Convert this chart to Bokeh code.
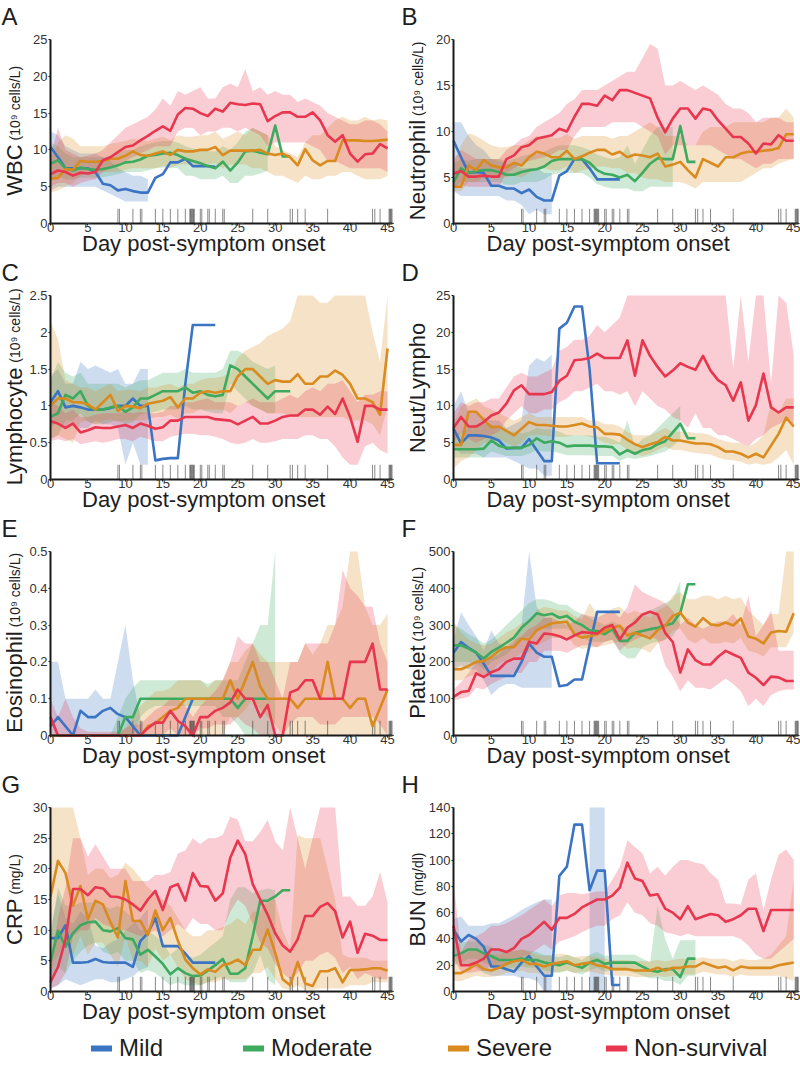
import numpy as np
from math import pi
from bokeh.plotting import figure
from bokeh.models import Label, Legend, LegendItem, Range1d, FixedTicker, NumeralTickFormatter
from bokeh.layouts import column, row
from bokeh.embed import file_html
from bokeh.resources import INLINE

N = None

GROUPS = ["Mild", "Moderate", "Severe", "Non-survival"]
COLORS = ["#3B74C3", "#3DAA5F", "#D98B1F", "#E8364F"]

DAYS = [0, 1, 2, 3, 4, 5, 6, 7, 8, 9, 10, 11, 12, 13, 14, 15, 16, 17, 18, 19, 20, 21, 22,
        23, 24, 25, 26, 27, 28, 29, 30, 31, 32, 33, 34, 35, 36, 37, 38, 39, 40, 41, 42, 43, 44, 45]
X_TICKS = [0, 5, 10, 15, 20, 25, 30, 35, 40, 45]
X_LABEL = "Day post-symptom onset"

RUG_DAYS = [9, 9.2, 11, 12, 12.2, 14, 15, 16, 17, 18, 18.6, 18.7, 18.8, 18.9, 19, 19.1, 19.2,
            20, 20.2, 21, 21.2, 22, 23, 23.2, 27, 29, 32, 32.3, 33, 34, 37, 43, 43.3, 44,
            45.2, 45.3, 45.4, 45.5, 45.6]

# ---------------- A: WBC ----------------
WBC_TICKS = [0, 5, 10, 15, 20, 25]
WBC_MILD = [10.4, 9.0, 7.5, 7.5, 7.5, 7.5, 7.0, 5.4, 5.2, 4.5, 4.7, 4.4, 4.2, 4.2, 6.2, 6.7, 8.3, 8.3, 8.8, 7.8, 7.8, 7.8, 7.7]
WBC_MILD_LO = [4.5, 5, 5, 5, 5, 5, 5, 4.5, 4, 3.5, 3, 3, 3, 3, N, N, N, N, N, N, N, N, N]
WBC_MILD_HI = [12.5, 12, 10.5, 10, 9.5, 9.5, 9.5, 9, 8.5, 7.5, 7, 6.5, 6.5, 6, N, N, N, N, N, N, N, N, N]
WBC_MOD = [8.1, 8.6, 7.5, 7.2, 7.6, 7.4, 7.3, 7.4, 7.6, 7.9, 8.3, 8.4, 8.7, 9.2, 9.3, 9.5, 9.6, 9.3, 8.8, 8.5, 8.2, 7.8, 7.5, 8.4, 7.2, 8.3, 9.8, 9.9, 9.6, 9.4, 13.3, 9.1, 9.1]
WBC_MOD_LO = [6, 6.5, 6, 6, 6.2, 6.2, 6.2, 6.3, 6.5, 6.7, 7, 7, 7, 7.2, 7.5, 7.6, 7.6, 7.5, 6.5, 6.5, 6, 6, 6, 6.5, 5.5, 5.5, 6.5, 6.5, 6.8, 7.2, N, N, N]
WBC_MOD_HI = [11, 10.5, 9.5, 9, 9, 9, 9, 9, 9.2, 9.5, 10, 10, 10.5, 10.8, 11, 11.2, 11.2, 11, 10.5, 10.2, 10, 9.8, 9.8, 10.5, 10, 11, 12.5, 13, 12.5, 12, N, N, N]
WBC_SEV = [6.1, 6.2, 7.4, 7.3, 8.5, 8.4, 8.4, 8.5, 8.8, 8.8, 9.2, 9.8, 9.3, 9.2, 9.5, 9.8, 9.3, 10.0, 9.8, 9.8, 10.0, 10.0, 10.4, 9.3, 9.9, 9.9, 9.9, 9.9, 10.0, 9.5, 9.3, 9.5, 9.0, 7.9, 10.1, 8.6, 7.9, 8.5, 8.5, 11.3, 11.3, 11.3, 11.2, 11.2, 11.3, 11.4]
WBC_SEV_LO = [4.2, 4.5, 5, 5.5, 6.5, 6.8, 7, 7, 7, 7, 7.3, 7.5, 7.5, 7.5, 7.5, 7.8, 7.5, 8, 8, 8, 8, 8, 8.2, 7.5, 8, 8, 8, 7.5, 7.5, 7, 6.5, 6.5, 6, 5.5, 6.5, 6, 6, 6.5, 6.5, 7, 7, 6.5, 6, 6, 6, 6.5]
WBC_SEV_HI = [8.5, 11, 12, 11.5, 10.5, 10.5, 10.5, 10.5, 10.8, 11, 11.2, 11.5, 11.3, 11.2, 11.5, 11.8, 11.3, 12, 11.8, 11.8, 12, 12, 12.5, 11.5, 12, 12.5, 12, 13, 12.5, 12, 10.5, 10, 9.5, 9, 11, 12, 12, 13, 14, 14.5, 14, 14, 14.5, 14, 14.2, 14]
WBC_NS = [6.7, 7.2, 7.0, 6.5, 6.9, 6.8, 7.0, 8.6, 9.0, 9.7, 10.4, 10.6, 11.3, 11.9, 12.6, 13.2, 12.6, 14.8, 15.7, 15.6, 15.0, 14.6, 15.6, 15.2, 16.4, 16.2, 16.1, 16.3, 16.2, 13.9, 14.6, 15.1, 15.1, 14.5, 14.5, 15.1, 14.0, 12.0, 11.1, 12.0, 9.5, 8.4, 9.4, 9.5, 10.8, 10.2]
WBC_NS_LO = [5, 5.5, 5.5, 5, 5.5, 5.8, 6, 7, 7.5, 8, 8.5, 9, 9.5, 10, 10.5, 10.5, 10.5, 12.5, 13, 13, 12, 12.5, 12.5, 13, 13, 12.5, 13, 12.5, 12, 10.5, 11, 11, 11, 11, 11, 10.5, 10, 8.5, 8.5, 8, 7.5, 7.5, 7.5, 7.5, 7.5, 7]
WBC_NS_HI = [9, 13, 10, 9.5, 9, 9.2, 9.5, 10, 11, 12, 13, 13.5, 14, 14.5, 15.5, 17, 16, 18, 17.5, 18, 18.5, 17, 17, 18.5, 19, 18.5, 21, 18, 18.5, 17.5, 18, 17.5, 17.5, 16.5, 17, 16.5, 16, 15, 14.5, 14, 13.5, 13.5, 14, 14, 13.5, 12.5]

# ---------------- B: Neutrophil ----------------
NEUT_TICKS = [0, 5, 10, 15, 20]
NEUT_MILD = [9.0, 7.2, 5.5, 5.6, 5.5, 4.1, 4.1, 3.8, 3.8, 3.3, 3.7, 2.9, 2.5, 2.5, 5.2, 5.7, 7.0, 7.0, 6.0, 4.8, 4.8, 4.8, 4.8]
NEUT_MILD_LO = [3.5, 3, 3, 3, 3, 3, 3, 2.5, 2.5, 2, 1, 1.5, 1, 1, N, N, N, N, N, N, N, N, N]
NEUT_MILD_HI = [11, 11, 9.5, 8.5, 8, 7, 6.8, 6.5, 6.5, 6, 6, 6, 5.5, 5.5, N, N, N, N, N, N, N, N, N]
NEUT_MOD = [4.5, 6.0, 5.5, 5.7, 5.8, 5.8, 5.6, 5.3, 5.3, 5.6, 5.8, 5.9, 6.2, 6.8, 7.0, 7.0, 7.0, 7.0, 6.6, 5.8, 5.4, 5.3, 5.0, 5.3, 4.6, 5.5, 6.5, 7.1, 7.0, 7.0, 10.6, 6.7, 6.7]
NEUT_MOD_LO = [3.8, 4.5, 4.5, 4.5, 4.5, 4.5, 4.5, 4.2, 4.2, 4.5, 4.5, 4.5, 4.8, 5.3, 5.5, 5.5, 5.5, 5.5, 5, 4.3, 4, 3.8, 3.8, 3.8, 3.5, 3.5, 4, 4, 4, 4, N, N, N]
NEUT_MOD_HI = [6.5, 7, 6.8, 7, 7, 7, 7, 6.8, 7, 7.3, 7.5, 7.5, 7.8, 8.2, 8.5, 8.5, 8.5, 8.3, 8, 7.5, 7.2, 7, 7.2, 8.5, 6.5, 8, 9.5, 10.5, 10.5, 10.5, N, N, N]
NEUT_SEV = [4.0, 4.0, 6.3, 5.8, 6.9, 6.3, 6.1, 6.1, 6.6, 6.3, 7.2, 7.8, 7.6, 7.2, 7.2, 7.9, 7.0, 7.3, 7.7, 8.0, 8.0, 7.5, 7.8, 7.2, 7.5, 7.4, 7.2, 7.6, 6.2, 6.4, 6.7, 5.8, 5.0, 7.0, 6.6, 6.2, 7.2, 7.2, 7.6, 7.8, 7.8, 7.9, 8.0, 8.2, 9.7, 9.7]
NEUT_SEV_LO = [3.5, 3.5, 4.5, 4.5, 5, 5, 5, 5, 5.2, 5, 5.5, 6, 6, 5.8, 5.8, 6.2, 5.5, 5.8, 6, 6.2, 6.2, 6, 6, 5.5, 5.5, 5, 4.8, 4.8, 4.5, 4.5, 4.5, 4.2, 3.8, 4.5, 4.5, 4.5, 4.5, 4.5, 4.5, 5, 5.5, 6, 6, 6.5, 6.8, 7]
NEUT_SEV_HI = [6.5, 8.5, 9.8, 9.5, 9, 8.5, 8.3, 8.3, 8.5, 8.5, 9, 9.5, 9.5, 9.3, 9.3, 9.7, 9.2, 9.5, 9.5, 9.5, 9.5, 9.2, 9.5, 9.5, 10, 10.5, 11, 10.5, 9.5, 9.5, 9.5, 8.5, 8.5, 10, 10.5, 10.5, 10.5, 11, 11, 11, 11, 11, 11.5, 11.5, 12.5, 11.5]
NEUT_NS = [5.4, 5.7, 5.1, 5.1, 5.2, 5.1, 5.1, 7.0, 7.4, 8.3, 8.5, 9.2, 9.4, 9.6, 10.3, 10.0, 11.6, 13.0, 13.0, 12.8, 13.9, 13.4, 14.5, 14.5, 14.2, 13.9, 13.6, 11.5, 9.9, 11.4, 12.5, 12.5, 11.4, 12.5, 12.3, 11.2, 10.3, 9.4, 9.4, 8.7, 7.6, 8.7, 8.6, 9.6, 9.0, 9.0]
NEUT_NS_LO = [4, 4.2, 4, 4, 4, 4, 4, 5.5, 6, 6.5, 6.8, 7, 7.2, 7.5, 8, 8, 9.5, 10.5, 10.5, 10.5, 10.5, 11, 11, 11, 11, 10.5, 10, 9.5, 7.5, 8.5, 8.5, 8.5, 8.5, 8.5, 8.5, 8, 7.5, 7, 7, 6.5, 6, 6.5, 6.5, 7, 7, 7]
NEUT_NS_HI = [7, 8, 7.5, 7, 7, 7, 7, 8, 8.5, 9.2, 9.5, 10.5, 11, 11.5, 12, 13, 13.5, 14.5, 14.5, 14.5, 15, 15.5, 16, 16.5, 16.5, 18, 19.5, 19, 15, 15, 15.5, 15, 14.5, 15, 14.5, 14, 13, 12.5, 12.5, 12, 11, 11.5, 11.5, 11.5, 11, 11]

# ---------------- C: Lymphocyte ----------------
LYM_TICKS = [0, 0.5, 1, 1.5, 2, 2.5]
LYM_MILD = [1.05, 1.2, 0.98, 1.0, 0.98, 0.95, 0.95, 0.95, 0.97, 1.0, 1.0, 1.1, 1.0, 1.0, 0.26, 0.28, 0.29, 0.29, 1.3, 2.1, 2.1, 2.1, 2.1]
LYM_MILD_LO = [0.7, 0.8, 0.7, 0.75, 0.7, 0.7, 0.8, 0.75, 0.75, 0.7, 0.2, 0.5, 0.2, 0.2, N, N, N, N, N, N, N, N, N]
LYM_MILD_HI = [1.4, 1.5, 1.3, 1.3, 1.6, 1.5, 1.55, 1.5, 1.45, 1.5, 1.3, 1.3, 1.5, 1.5, N, N, N, N, N, N, N, N, N]
LYM_MOD = [0.85, 0.9, 1.15, 1.1, 1.2, 1.0, 0.95, 0.95, 0.98, 1.0, 0.92, 0.98, 1.1, 1.1, 1.15, 1.2, 1.2, 1.2, 1.25, 1.18, 1.2, 1.15, 1.13, 1.15, 1.55, 1.5, 1.4, 1.3, 1.2, 1.1, 1.2, 1.2, 1.2]
LYM_MOD_LO = [0.55, 0.6, 0.8, 0.8, 0.9, 0.78, 0.75, 0.75, 0.78, 0.8, 0.75, 0.78, 0.88, 0.9, 0.92, 0.95, 0.95, 0.95, 1.0, 0.95, 0.95, 0.92, 0.9, 0.9, 1.3, 1.2, 1.1, 1.0, 0.95, 0.9, 0.9, N, N]
LYM_MOD_HI = [1.35, 1.6, 1.45, 1.4, 1.45, 1.3, 1.3, 1.3, 1.3, 1.3, 1.25, 1.3, 1.35, 1.35, 1.4, 1.45, 1.45, 1.45, 1.5, 1.45, 1.45, 1.45, 1.45, 1.5, 1.75, 1.75, 1.7, 1.6, 1.55, 1.5, 1.55, N, N]
LYM_SEV = [1.0, 1.1, 1.1, 1.05, 1.05, 1.02, 0.95, 1.05, 1.15, 0.93, 1.0, 0.99, 0.97, 1.03, 1.05, 1.07, 1.12, 0.98, 1.1, 1.1, 1.18, 1.2, 1.18, 1.2, 1.2, 1.4, 1.5, 1.5, 1.4, 1.3, 1.35, 1.33, 1.33, 1.43, 1.3, 1.3, 1.4, 1.4, 1.48, 1.42, 1.3, 1.1, 1.1, 1.05, 0.88, 1.78]
LYM_SEV_LO = [0.55, 0.6, 0.55, 0.5, 0.78, 0.8, 0.75, 0.8, 0.82, 0.78, 0.8, 0.8, 0.8, 0.82, 0.85, 0.85, 0.88, 0.82, 0.9, 0.9, 0.95, 0.95, 0.95, 0.95, 0.9, 1.0, 1.05, 1.0, 0.95, 0.9, 0.9, 0.9, 0.85, 0.85, 0.85, 0.85, 0.85, 0.85, 0.85, 0.85, 0.8, 0.8, 0.8, 0.75, 0.6, 1.0]
LYM_SEV_HI = [2.15, 1.9, 1.35, 1.3, 1.25, 1.25, 1.2, 1.25, 1.3, 1.2, 1.22, 1.22, 1.2, 1.25, 1.25, 1.28, 1.3, 1.25, 1.3, 1.3, 1.35, 1.38, 1.38, 1.4, 1.45, 1.65, 1.75, 1.8, 1.85, 1.95, 2.0, 2.05, 2.15, 2.5, 2.5, 2.5, 2.4, 2.4, 2.5, 2.5, 2.5, 2.5, 2.5, 2.0, 1.6, 2.5]
LYM_NS = [0.79, 0.76, 0.70, 0.76, 0.64, 0.67, 0.71, 0.70, 0.70, 0.72, 0.74, 0.70, 0.76, 0.73, 0.69, 0.71, 0.80, 0.80, 0.85, 0.85, 0.85, 0.85, 0.82, 0.81, 0.80, 0.75, 0.80, 0.85, 0.76, 0.76, 0.80, 0.85, 0.87, 0.87, 0.95, 0.95, 0.88, 0.99, 0.89, 1.10, 0.85, 0.51, 1.0, 1.0, 0.95, 0.95]
LYM_NS_LO = [0.52, 0.55, 0.52, 0.55, 0.48, 0.5, 0.52, 0.5, 0.52, 0.55, 0.55, 0.52, 0.58, 0.55, 0.52, 0.52, 0.58, 0.6, 0.62, 0.62, 0.6, 0.6, 0.58, 0.55, 0.5, 0.48, 0.5, 0.55, 0.5, 0.5, 0.52, 0.55, 0.55, 0.55, 0.6, 0.6, 0.55, 0.55, 0.45, 0.3, 0.2, 0.2, 0.45, 0.5, 0.4, 0.35]
LYM_NS_HI = [1.05, 1.0, 0.9, 0.95, 0.85, 0.85, 0.88, 0.9, 0.9, 0.9, 0.92, 0.9, 0.92, 0.9, 0.9, 0.92, 1.0, 1.0, 1.05, 1.05, 1.08, 1.1, 1.05, 1.05, 1.05, 1.0, 1.05, 1.1, 1.05, 1.05, 1.05, 1.1, 1.15, 1.1, 1.2, 1.25, 1.2, 1.3, 1.3, 1.35, 1.2, 1.05, 1.15, 1.15, 1.2, 1.2]

# ---------------- D: Neut/Lympho ----------------
NLR_TICKS = [0, 5, 10, 15, 20, 25]
NLR_MILD = [6.9, 4.9, 6.0, 6.0, 5.9, 5.7, 5.3, 4.2, 4.3, 4.3, 5.5, 4.0, 2.5, 2.5, 20.5, 21.3, 23.5, 23.5, 15.0, 2.2, 2.2, 2.2, 2.2]
NLR_MILD_LO = [4.5, 3.5, 3.5, 3.5, 3, 3, 3, 3, 2.5, 2, 1.5, 1.5, 0.5, 0.5, N, N, N, N, N, N, N, N, N]
NLR_MILD_HI = [10, 12, 9, 9, 8.5, 8, 8, 7, 7.5, 8, 15.5, 16.5, 16, 17, N, N, N, N, N, N, N, N, N]
NLR_MOD = [4.1, 4.1, 4.1, 4.1, 4.2, 5.3, 4.6, 4.3, 4.3, 4.3, 4.7, 5.6, 5.0, 5.2, 5.0, 4.5, 4.6, 4.6, 4.6, 4.5, 4.5, 4.4, 3.4, 4.0, 3.5, 4.0, 4.2, 4.8, 5.2, 6.4, 7.6, 5.6, 5.6]
NLR_MOD_LO = [3, 3, 3, 3, 3, 3.8, 3.5, 3.2, 3.2, 3.2, 3.5, 4, 3.8, 3.8, 3.6, 3.3, 3.3, 3.3, 3.3, 3.2, 3.2, 3.2, 2.5, 3, 2.8, 3, 3.2, 3.5, 3.8, 4.5, 5.5, N, N]
NLR_MOD_HI = [6, 6.5, 7, 7.5, 7.5, 7.5, 7, 6.5, 6.5, 6.3, 6.5, 7, 6.8, 6.8, 6.5, 6, 6, 6, 6, 5.8, 5.8, 5.5, 5, 8, 4.5, 5.5, 6, 7, 8, 9, 10, N, N]
NLR_SEV = [4.7, 4.7, 9.2, 9.2, 8.1, 7.1, 7.2, 6.6, 6.0, 6.9, 7.8, 7.4, 7.4, 7.3, 7.2, 7.2, 7.4, 7.6, 7.2, 7.1, 6.2, 6.2, 6.1, 5.4, 4.8, 4.4, 4.8, 5.1, 5.8, 5.3, 5.3, 5.1, 4.9, 4.9, 4.8, 4.4, 3.8, 3.8, 3.5, 3.0, 3.5, 3.0, 4.6, 6.2, 8.4, 7.2]
NLR_SEV_LO = [1.5, 2.5, 3, 4, 5, 5, 5.5, 5, 4.5, 5, 6, 6, 6, 5.8, 5.8, 5.8, 6, 6, 5.8, 5.5, 5, 4.8, 4.8, 4, 3.5, 3.2, 3.5, 4, 4.5, 4, 4, 3.8, 3.6, 3.5, 3.4, 3.0, 2.7, 2.6, 2.4, 2.0, 2.2, 2.0, 2.2, 3, 4, 2]
NLR_SEV_HI = [7.5, 10, 10.5, 11, 10, 9.5, 9, 8.5, 8, 8.5, 9, 8.5, 8.5, 8.5, 8.5, 8.5, 8.5, 8.5, 8, 8, 7.5, 7.5, 7.2, 6.5, 6, 6, 6, 6.5, 7, 6.5, 6.5, 6.5, 6.3, 6.3, 6, 5.5, 5.2, 5, 5, 4.5, 5, 6, 10.5, 9, 11, 11]
NLR_NS = [7.0, 8.5, 7.2, 7.2, 7.8, 8.7, 9.1, 10.3, 12.1, 12.8, 11.6, 11.6, 11.6, 11.9, 13.4, 14.1, 16.2, 16.3, 16.5, 17.1, 16.5, 16.5, 16.5, 18.9, 14.1, 18.9, 16.8, 15.3, 14.0, 14.8, 15.8, 15.3, 14.9, 16.8, 14.8, 13.5, 12.8, 10.7, 13.2, 8.0, 10.1, 14.4, 9.8, 9.1, 9.8, 9.8]
NLR_NS_LO = [5, 6.5, 5.5, 5, 5.5, 6, 6.5, 8, 9, 10, 9, 9, 9.5, 9.5, 10.5, 11, 12, 12, 12.5, 13, 12, 12, 11.5, 12, 10, 12, 11, 10, 9.5, 8.5, 8, 7, 9, 7, 7, 6, 6, 5.5, 5, 4.5, 5.5, 6, 7, 7.5, 8, 7.5]
NLR_NS_HI = [9, 10.5, 10, 10.5, 10.5, 11, 11, 12.5, 14, 14.5, 14, 14, 14.5, 15, 17.5, 18, 19, 19, 19.5, 21, 20, 21, 22, 25, 25, 25, 25, 25, 25, 25, 25, 25, 25, 25, 25, 25, 25, 15, 25, 16, 25, 25, 13, 25, 24, 17]

# ---------------- E: Eosinophil ----------------
EOS_TICKS = [0, 0.1, 0.2, 0.3, 0.4, 0.5]
EOS_MILD = [0.025, 0.05, 0.025, 0, 0.067, 0.05, 0.05, 0.067, 0.075, 0.058, 0.05, 0.025, 0, 0, 0, 0, 0, 0, 0.05, 0.1, N, N, N]
EOS_MILD_LO = [0, 0, 0, 0, 0, 0, 0, 0, 0, 0, 0, 0, 0, N, N, N, N, N, N, N, N, N, N]
EOS_MILD_HI = [0.2, 0.2, 0.1, 0.1, 0.1, 0.1, 0.125, 0.1, 0.1, 0.2, 0.3, 0.15, 0.05, N, N, N, N, N, N, N, N, N, N]
EOS_MOD = [0, 0, 0, 0, 0, 0, 0, 0, 0, 0, 0.05, 0.05, 0.1, 0.1, 0.1, 0.1, 0.1, 0.1, 0.1, 0.1, 0.1, 0.1, 0.1, 0.1, 0.1, 0.075, 0.1, 0.1, 0.1, 0.1, N, N, N]
EOS_MOD_LO = [0, 0, 0, 0, 0, 0, 0, 0, 0, 0, 0, 0, 0.05, 0.07, 0.08, 0.08, 0.08, 0.08, 0.08, 0.08, 0.08, 0.08, 0.08, 0.05, 0.05, 0.03, 0, 0, 0, 0, 0, N, N]
EOS_MOD_HI = [0, 0, 0, 0, 0, 0, 0, 0, 0, 0.05, 0.1, 0.13, 0.15, 0.15, 0.15, 0.15, 0.15, 0.15, 0.15, 0.15, 0.15, 0.14, 0.15, 0.15, 0.15, 0.15, 0.2, 0.25, 0.3, 0.3, 0.5, N, N]
EOS_SEV = [0, 0, 0, 0, 0, 0, 0, 0, 0, 0, 0, 0, 0, 0.025, 0.033, 0.05, 0.067, 0.075, 0.1, 0.1, 0.1, 0.1, 0.1, 0.1, 0.15, 0.1, 0.15, 0.2, 0.133, 0.1, 0.1, 0.1, 0.1, 0.075, 0.1, 0.1, 0.1, 0.2, 0.1, 0.1, 0.075, 0.1, 0.1, 0.025, 0.075, 0.125]
EOS_SEV_LO = [0, 0, 0, 0, 0, 0, 0, 0, 0, 0, 0, 0, 0, 0, 0, 0, 0, 0, 0, 0, 0, 0, 0, 0, 0.05, 0.05, 0.07, 0.1, 0.07, 0.05, 0.03, 0, 0, 0, 0, 0, 0, 0, 0, 0, 0, 0, 0, 0, 0, 0]
EOS_SEV_HI = [0, 0, 0, 0, 0, 0, 0, 0, 0, 0, 0.02, 0.05, 0.08, 0.1, 0.12, 0.12, 0.13, 0.15, 0.15, 0.15, 0.15, 0.13, 0.15, 0.15, 0.2, 0.2, 0.23, 0.25, 0.22, 0.2, 0.2, 0.2, 0.2, 0.2, 0.25, 0.22, 0.25, 0.3, 0.3, 0.35, 0.5, 0.5, 0.35, 0.3, 0.3, 0.33]
EOS_NS = [0.05, 0, 0, 0, 0, 0, 0, 0, 0, 0, 0, 0, 0, 0.02, 0.035, 0.035, 0.067, 0.04, 0.025, 0, 0.05, 0.05, 0.067, 0.075, 0.09, 0.125, 0.1, 0.1, 0.05, 0.083, 0, 0, 0.117, 0.125, 0.15, 0.15, 0.1, 0.1, 0.1, 0.1, 0.2, 0.2, 0.2, 0.25, 0.125, 0.125]
EOS_NS_LO = [0, 0, 0, 0, 0, 0, 0, 0, 0, 0, 0, 0, 0, 0, 0, 0, 0.02, 0, 0, 0, 0.02, 0.02, 0.03, 0.03, 0.03, 0.05, 0.03, 0.02, 0, 0, 0, 0, 0.03, 0.05, 0.05, 0.05, 0.03, 0.03, 0.03, 0.05, 0.05, 0.05, 0.05, 0.05, 0.03, 0]
EOS_NS_HI = [0.1, 0.05, 0.1, 0.05, 0.02, 0.01, 0.01, 0.01, 0.01, 0.01, 0.02, 0.03, 0.03, 0.05, 0.07, 0.08, 0.1, 0.1, 0.08, 0.05, 0.08, 0.1, 0.12, 0.15, 0.2, 0.27, 0.25, 0.25, 0.2, 0.2, 0.15, 0.1, 0.2, 0.2, 0.25, 0.25, 0.25, 0.25, 0.3, 0.45, 0.4, 0.38, 0.35, 0.35, 0.25, 0.2]

# ---------------- F: Platelet ----------------
PLT_TICKS = [0, 100, 200, 300, 400, 500]
PLT_MILD = [225, 254, 238, 225, 195, 162, 162, 162, 162, 200, 250, 225, 214, 214, 134, 137, 152, 152, 245, 336, 336, 336, 336]
PLT_MILD_LO = [180, 190, 180, 180, 150, 110, 130, 140, 140, 130, 130, 130, 130, 130, N, N, N, N, N, N, N, N, N]
PLT_MILD_HI = [260, 335, 300, 270, 230, 285, 250, 240, 250, 300, 500, 350, 320, 320, N, N, N, N, N, N, N, N, N]
PLT_MOD = [245, 245, 236, 225, 209, 227, 239, 252, 266, 293, 311, 332, 327, 331, 320, 325, 309, 300, 286, 284, 275, 289, 257, 257, 279, 284, 289, 293, 299, 305, 334, 411, 411]
PLT_MOD_LO = [200, 200, 200, 195, 180, 200, 210, 220, 240, 260, 270, 290, 290, 290, 290, 290, 280, 270, 255, 255, 255, 260, 225, 210, 210, 240, 250, 255, 260, 270, 300, N, N]
PLT_MOD_HI = [300, 290, 275, 265, 250, 260, 280, 300, 320, 340, 360, 370, 370, 365, 355, 355, 340, 330, 320, 310, 300, 310, 300, 290, 320, 330, 340, 350, 360, 370, 420, N, N]
PLT_SEV = [180, 180, 189, 200, 202, 213, 230, 240, 240, 263, 261, 286, 296, 305, 307, 309, 275, 266, 270, 275, 284, 293, 298, 272, 279, 272, 264, 286, 298, 325, 334, 307, 296, 319, 302, 299, 307, 299, 318, 269, 263, 250, 280, 284, 282, 332]
PLT_SEV_LO = [150, 150, 160, 165, 165, 175, 195, 205, 210, 225, 225, 245, 255, 265, 265, 270, 245, 235, 240, 240, 245, 250, 255, 235, 240, 235, 225, 250, 260, 285, 290, 260, 250, 265, 250, 250, 255, 250, 265, 230, 225, 215, 240, 240, 240, 280]
PLT_SEV_HI = [310, 280, 260, 250, 245, 250, 265, 280, 290, 305, 310, 340, 350, 345, 340, 340, 325, 315, 360, 330, 330, 345, 350, 330, 340, 330, 320, 340, 350, 380, 390, 370, 370, 380, 380, 370, 380, 370, 375, 340, 320, 300, 330, 330, 500, 500]
PLT_NS = [105, 118, 121, 169, 159, 172, 180, 200, 209, 209, 255, 250, 277, 275, 270, 261, 272, 281, 279, 277, 293, 300, 261, 293, 307, 329, 336, 329, 279, 254, 171, 234, 205, 193, 193, 214, 230, 220, 211, 171, 157, 137, 160, 158, 148, 148]
PLT_NS_LO = [95, 100, 105, 130, 125, 140, 150, 160, 170, 170, 200, 200, 230, 230, 230, 225, 235, 245, 245, 240, 255, 260, 230, 250, 260, 270, 270, 260, 190, 160, 120, 150, 130, 130, 125, 140, 155, 140, 120, 80, 100, 80, 110, 120, 125, 125]
PLT_NS_HI = [125, 145, 170, 200, 200, 210, 220, 240, 260, 270, 290, 300, 320, 320, 310, 300, 310, 330, 325, 320, 330, 340, 320, 350, 410, 390, 380, 370, 360, 340, 300, 320, 300, 290, 300, 310, 310, 330, 300, 380, 270, 300, 340, 230, 230, 230]

# ---------------- G: CRP ----------------
CRP_TICKS = [0, 5, 10, 15, 20, 25, 30]
CRP_MILD = [8.7, 8.7, 10.8, 4.7, 4.7, 4.8, 5.3, 4.8, 4.7, 4.7, 4.7, 4.0, 8.2, 9.5, 12.0, 7.4, 7.4, 7.4, 6.2, 4.7, 4.7, 4.7, 4.7]
CRP_MILD_LO = [0.5, 1, 2, 1.5, 1, 1.5, 2, 2, 1.5, 1.5, 2, 2.5, 3.5, 4, N, N, N, N, N, N, N, N, N]
CRP_MILD_HI = [10, 16, 12, 11, 13, 12, 7.5, 7, 8, 8.5, 10, 11, 12, 13.5, N, N, N, N, N, N, N, N, N]
CRP_MOD = [4.8, 9.9, 7.3, 9.5, 10.8, 11.3, 11.4, 10.0, 9.8, 10.3, 8.7, 8.5, 6.0, 6.8, 5.7, 4.5, 2.8, 3.8, 3.0, 2.5, 2.6, 3.4, 4.3, 5.3, 2.9, 2.9, 3.8, 9.0, 14.8, 14.8, 15.5, 16.5, 16.5]
CRP_MOD_LO = [1, 4, 3, 5, 6.5, 7.5, 8, 6.5, 6, 6.5, 5, 5, 3, 3.5, 3, 2, 1, 1.5, 1, 1, 1, 1.5, 2, 2.5, 1.5, 1.5, 1.5, 3, 6, 2, 1, N, N]
CRP_MOD_HI = [9, 17, 14, 14, 14.5, 14.5, 14.5, 14, 13.5, 14, 13, 12, 10, 10, 9, 8, 6, 7, 6, 5.5, 6, 7, 8, 9, 15, 17, 17, 16, 16.5, 16.8, 16.5, N, N]
CRP_SEV = [15.5, 21.3, 19.3, 14.0, 17.2, 11.8, 14.8, 14.2, 11.3, 8.8, 18.0, 11.5, 11.5, 9.2, 13.2, 10.0, 12.0, 8.3, 5.2, 3.8, 2.8, 3.6, 3.2, 4.3, 4.6, 5.2, 4.3, 6.8, 6.8, 10.1, 6.3, 2.0, 1.0, 4.8, 1.3, 0.9, 3.3, 3.3, 3.8, 1.5, 3.5, 3.5, 3.6, 3.8, 3.8, 3.4]
CRP_SEV_LO = [3, 6, 8, 6, 9, 6, 8, 8, 6, 4, 9, 5, 5, 4, 7, 5, 6, 4, 2, 1.5, 1, 1.5, 1.5, 2, 2, 2, 2, 3, 3, 4, 2, 0.5, 0.3, 1, 0.3, 0.3, 0.5, 0.5, 0.5, 0.5, 1, 1, 1, 1.5, 1.5, 1.5]
CRP_SEV_HI = [30, 30, 30, 30, 25, 19, 20, 20, 18.5, 19, 21, 20, 18.5, 17, 16, 15, 14, 12, 10, 9, 9, 10, 10, 10.5, 11, 12, 11, 13, 13, 15, 15, 10, 7, 25.5, 25, 25, 25, 20, 15, 6, 5.5, 5.5, 5.5, 5, 5, 5]
CRP_NS = [1.5, 4.0, 8.5, 16.7, 16.7, 15.7, 17.0, 16.8, 15.5, 15.4, 15.0, 14.2, 13.2, 15.0, 16.4, 13.3, 17.0, 17.5, 14.8, 19.3, 17.2, 17.1, 14.8, 16.0, 21.8, 24.6, 22.4, 17.5, 15.0, 12.5, 9.5, 7.5, 6.5, 8.5, 12.3, 12.3, 13.8, 14.4, 13.1, 8.8, 11.4, 6.3, 9.4, 9.1, 8.4, 8.4]
CRP_NS_LO = [0.5, 1, 3, 9, 10, 10, 12, 11, 10.5, 10, 10, 9.5, 9, 9.5, 10, 9, 10, 11, 10, 12, 11, 11, 10, 10, 13, 15, 14, 11, 8, 7, 4.5, 3, 2, 3, 5, 5, 6, 6.5, 5.5, 3, 4, 2, 3, 2.5, 2, 2]
CRP_NS_HI = [5, 12, 17, 25, 25, 22, 24, 22, 20, 20, 20, 18, 18, 18, 19, 19, 19.5, 22.5, 23, 25, 24, 25, 25, 25.5, 28.5, 28, 24.5, 24.5, 26, 28, 24.5, 23, 30, 25, 20, 25, 30, 30, 30, 15.5, 15.5, 14, 14, 15.5, 19.5, 14.5]

# ---------------- H: BUN ----------------
BUN_TICKS = [0, 20, 40, 60, 80, 100, 120, 140]
BUN_MILD = [47, 38, 43, 40, 34, 19, 19, 17, 15, 22, 27, 19, 12, 12, 88, 95, 127, 127, 77, 92, 92, 5, 5]
BUN_MILD_LO = [30, 20, 20, 18, 14, 12, 12, 12, 12, 10, 10, 8, 0, 0, N, N, N, N, 0, 0, 0, N, N]
BUN_MILD_HI = [55, 57, 50, 50, 50, 52, 52, 55, 58, 62, 65, 68, 70, 70, N, N, N, N, 140, 140, 140, N, N]
BUN_MOD = [27, 29, 32, 32, 29, 27, 24, 24, 24, 25, 24, 24, 22, 21, 20, 22, 20, 18, 22, 24, 21, 22, 22, 22, 22, 19, 16, 15, 17, 17, 11, 25, 25]
BUN_MOD_LO = [20, 22, 25, 25, 22, 20, 18, 18, 18, 19, 18, 18, 16, 15, 14, 16, 14, 13, 16, 18, 15, 16, 16, 16, 14, 12, 10, 10, 8, 8, 5, 12, 12]
BUN_MOD_HI = [35, 37, 38, 38, 36, 34, 31, 31, 31, 32, 31, 30, 28, 27, 26, 28, 26, 24, 28, 30, 27, 28, 28, 28, 28, 25, 22, 65, 40, 25, 39, 39, 39]
BUN_SEV = [14, 14, 17, 21, 17, 16, 18, 21, 23, 24, 21, 21, 19, 21, 22, 23, 20, 21, 22, 20, 19, 17, 17, 17, 16, 16, 16, 18, 16, 18, 18, 19, 19, 22, 20, 18, 19, 16, 19, 18, 18, 18, 18, 20, 21, 22]
BUN_SEV_LO = [8, 8, 10, 12, 11, 11, 12, 14, 15, 16, 14, 14, 13, 14, 15, 16, 14, 15, 15, 14, 13, 12, 12, 12, 11, 11, 11, 12, 11, 12, 12, 13, 13, 15, 14, 13, 13, 11, 13, 12, 12, 12, 12, 12, 10, 8]
BUN_SEV_HI = [25, 28, 30, 33, 30, 28, 28, 30, 31, 32, 30, 28, 27, 28, 29, 28, 26, 27, 27, 26, 25, 24, 24, 24, 23, 23, 23, 24, 23, 24, 25, 25, 25, 26, 25, 25, 25, 23, 25, 24, 24, 25, 28, 35, 42, 85]
BUN_NS = [50, 20, 20, 22, 25, 32, 32, 30, 33, 40, 43, 48, 53, 47, 56, 56, 59, 64, 67, 70, 70, 73, 79, 98, 86, 84, 73, 74, 63, 60, 55, 65, 55, 57, 59, 58, 53, 55, 58, 63, 63, 46, 62, 62, 62, 62]
BUN_NS_LO = [25, 15, 14, 15, 16, 20, 20, 20, 22, 26, 28, 32, 36, 32, 38, 40, 42, 45, 48, 50, 50, 55, 58, 68, 60, 58, 52, 50, 45, 44, 42, 44, 42, 42, 42, 42, 42, 42, 40, 35, 28, 25, 25, 30, 35, 40]
BUN_NS_HI = [85, 30, 40, 42, 45, 50, 50, 52, 55, 58, 62, 66, 70, 65, 73, 75, 75, 74, 75, 76, 76, 85, 95, 115, 110, 105, 90, 95, 88, 95, 100, 100, 98, 97, 90, 85, 67, 67, 66, 85, 90, 62, 85, 104, 108, 100]

# ---------------- layout / style ----------------
FONT = "Liberation Sans"
FIG_W = 400
ROW_H = 256
LAST_ROW_H = 302
DATA_TOP = 39        # px from figure top to the top of the data area
DATA_BOTTOM = 223    # px from figure top to the x axis
X_AXIS_END = 45.7
BAND_ALPHA = 0.25
RUG_FRAC = 0.08
LETTER_Y = 207       # px above the x axis (letter anchor)
TITLE_Y = -20        # px below the x axis (x title anchor)
YLAB_X = -36         # px left of the y axis (y title anchor)
CHAR_W = {' ': 278, '(': 333, ')': 333, '/': 278, '-': 333, '⁹': 333,
          'A': 667, 'B': 667, 'C': 722, 'E': 667, 'L': 556, 'N': 722, 'P': 667, 'R': 722,
          'U': 722, 'W': 944, 'a': 556, 'c': 500, 'd': 556, 'e': 556, 'g': 556, 'h': 556,
          'i': 222, 'l': 222, 'm': 833, 'n': 556, 'o': 556, 'p': 556, 'r': 333, 's': 500,
          't': 278, 'u': 556, 'y': 500}


def text_w(t, size):
    return sum(CHAR_W.get(ch, 556) for ch in t) / 1000.0 * size


def arr(v):
    return np.array(v, dtype=float)


def add_text(p, text, xo, yo, size, align="left", angle=0.0, color="#1e1e1e"):
    p.add_layout(Label(x=0, y=0, x_offset=xo, y_offset=yo, text=text, text_font=FONT,
                       text_font_size=f"{size}px", text_align=align,
                       text_baseline="alphabetic", angle=angle, text_color=color))


def band_runs(lo, hi):
    ok = np.isfinite(lo) & np.isfinite(hi)
    runs, cur = [], []
    for i, good in enumerate(ok):
        if good:
            cur.append(i)
        elif cur:
            runs.append(cur)
            cur = []
    if cur:
        runs.append(cur)
    return runs


def make_panel(letter, ylabel, units, yticks, series, left, height=ROW_H, legend_items=None):
    ymax = yticks[-1]
    dl = 50 if left else 53            # px from figure left to x = 0
    sx = 7.49 if left else 7.56        # px per day
    fh = DATA_BOTTOM - DATA_TOP
    sy = fh / ymax
    xr = Range1d(-dl / sx, (FIG_W - dl) / sx)
    yr = Range1d(-(height - DATA_BOTTOM) / sy, ymax + DATA_TOP / sy)
    p = figure(width=FIG_W, height=height, x_range=xr, y_range=yr,
               output_backend="svg", toolbar_location=None, min_border=0,
               min_border_left=0, min_border_right=0, min_border_top=0, min_border_bottom=0)
    p.outline_line_color = None
    p.grid.visible = False
    for ax in (p.xaxis[0], p.yaxis[0]):
        ax.fixed_location = 0
        ax.axis_line_width = 2
        ax.axis_line_color = "#1a1a1a"
        ax.major_tick_line_color = "#1a1a1a"
        ax.major_tick_out = 2
        ax.major_tick_in = 0
        ax.minor_tick_line_color = None
        ax.major_label_text_font = FONT
        ax.major_label_text_font_size = "13px"
        ax.major_label_text_color = "#333333"
        ax.formatter = NumeralTickFormatter(format="0.[0]")
    p.xaxis.major_label_standoff = -3
    p.yaxis.major_label_standoff = 1
    p.xaxis.bounds = (0, X_AXIS_END)
    p.yaxis.bounds = (0, ymax)
    p.xaxis.ticker = FixedTicker(ticks=X_TICKS)
    p.yaxis.ticker = FixedTicker(ticks=yticks)

    for (mean, lo, hi), color in zip(series, COLORS):
        lo, hi = arr(lo), arr(hi)
        x = arr(DAYS[:len(lo)])
        for idx in band_runs(lo, hi):
            p.varea(x=x[idx], y1=lo[idx], y2=hi[idx], fill_color=color, fill_alpha=BAND_ALPHA)
    p.segment(x0=RUG_DAYS, y0=[0] * len(RUG_DAYS), x1=RUG_DAYS,
              y1=[ymax * RUG_FRAC] * len(RUG_DAYS), line_color="#3a3a3a",
              line_alpha=0.6, line_width=1)
    for (mean, lo, hi), color in zip(series, COLORS):
        y = arr(mean)
        p.line(x=DAYS[:len(y)], y=y, line_color=color, line_width=2.6, line_join="round")

    # texts
    add_text(p, letter, -dl + 1, LETTER_Y, 24)
    add_text(p, X_LABEL, X_AXIS_END * sx / 2 - 18, TITLE_Y, 22, align="center")
    w_main = text_w(ylabel, 22)
    w_units = text_w(units, 14) if units else 0
    gap = 4 if units else 0
    start = fh / 2 - (w_main + gap + w_units) / 2
    add_text(p, ylabel, YLAB_X, start, 22, angle=pi / 2)
    if units:
        add_text(p, units, YLAB_X, start + w_main + gap, 14, angle=pi / 2)

    # legend entries (thick swatches drawn from one-point lines of the series)
    if legend_items:
        for gi, lx in legend_items:
            mean = series[gi][0]
            r = p.line(x=DAYS[:1], y=mean[:1], line_color=COLORS[gi], line_width=6,
                       line_cap="round")
            lg = Legend(items=[LegendItem(label=GROUPS[gi], renderers=[r])],
                        location=(lx, 8), orientation="horizontal", glyph_width=21,
                        glyph_height=24, label_height=24, label_standoff=7, padding=0,
                        margin=0, spacing=0, label_text_font=FONT,
                        label_text_font_size="24px", label_text_color="#1e1e1e",
                        border_line_color=None, background_fill_alpha=0)
            p.add_layout(lg)
    return p


UNITS = "(10⁹ cells/L)"
pA = make_panel("A", "WBC", UNITS, WBC_TICKS,
                [(WBC_MILD, WBC_MILD_LO, WBC_MILD_HI), (WBC_MOD, WBC_MOD_LO, WBC_MOD_HI),
                 (WBC_SEV, WBC_SEV_LO, WBC_SEV_HI), (WBC_NS, WBC_NS_LO, WBC_NS_HI)], True)
pB = make_panel("B", "Neutrophil", UNITS, NEUT_TICKS,
                [(NEUT_MILD, NEUT_MILD_LO, NEUT_MILD_HI), (NEUT_MOD, NEUT_MOD_LO, NEUT_MOD_HI),
                 (NEUT_SEV, NEUT_SEV_LO, NEUT_SEV_HI), (NEUT_NS, NEUT_NS_LO, NEUT_NS_HI)], False)
pC = make_panel("C", "Lymphocyte", UNITS, LYM_TICKS,
                [(LYM_MILD, LYM_MILD_LO, LYM_MILD_HI), (LYM_MOD, LYM_MOD_LO, LYM_MOD_HI),
                 (LYM_SEV, LYM_SEV_LO, LYM_SEV_HI), (LYM_NS, LYM_NS_LO, LYM_NS_HI)], True)
pD = make_panel("D", "Neut/Lympho", None, NLR_TICKS,
                [(NLR_MILD, NLR_MILD_LO, NLR_MILD_HI), (NLR_MOD, NLR_MOD_LO, NLR_MOD_HI),
                 (NLR_SEV, NLR_SEV_LO, NLR_SEV_HI), (NLR_NS, NLR_NS_LO, NLR_NS_HI)], False)
pE = make_panel("E", "Eosinophil", UNITS, EOS_TICKS,
                [(EOS_MILD, EOS_MILD_LO, EOS_MILD_HI), (EOS_MOD, EOS_MOD_LO, EOS_MOD_HI),
                 (EOS_SEV, EOS_SEV_LO, EOS_SEV_HI), (EOS_NS, EOS_NS_LO, EOS_NS_HI)], True)
pF = make_panel("F", "Platelet", UNITS, PLT_TICKS,
                [(PLT_MILD, PLT_MILD_LO, PLT_MILD_HI), (PLT_MOD, PLT_MOD_LO, PLT_MOD_HI),
                 (PLT_SEV, PLT_SEV_LO, PLT_SEV_HI), (PLT_NS, PLT_NS_LO, PLT_NS_HI)], False)
pG = make_panel("G", "CRP", "(mg/L)", CRP_TICKS,
                [(CRP_MILD, CRP_MILD_LO, CRP_MILD_HI), (CRP_MOD, CRP_MOD_LO, CRP_MOD_HI),
                 (CRP_SEV, CRP_SEV_LO, CRP_SEV_HI), (CRP_NS, CRP_NS_LO, CRP_NS_HI)], True,
                height=LAST_ROW_H, legend_items=[(0, 91), (1, 243)])
pH = make_panel("H", "BUN", "(mg/dl)", BUN_TICKS,
                [(BUN_MILD, BUN_MILD_LO, BUN_MILD_HI), (BUN_MOD, BUN_MOD_LO, BUN_MOD_HI),
                 (BUN_SEV, BUN_SEV_LO, BUN_SEV_HI), (BUN_NS, BUN_NS_LO, BUN_NS_HI)], False,
                height=LAST_ROW_H, legend_items=[(2, 48), (3, 206)])

layout = column(row(pA, pB), row(pC, pD), row(pE, pF), row(pG, pH))
open("out.html", "w").write(file_html(layout, INLINE))
